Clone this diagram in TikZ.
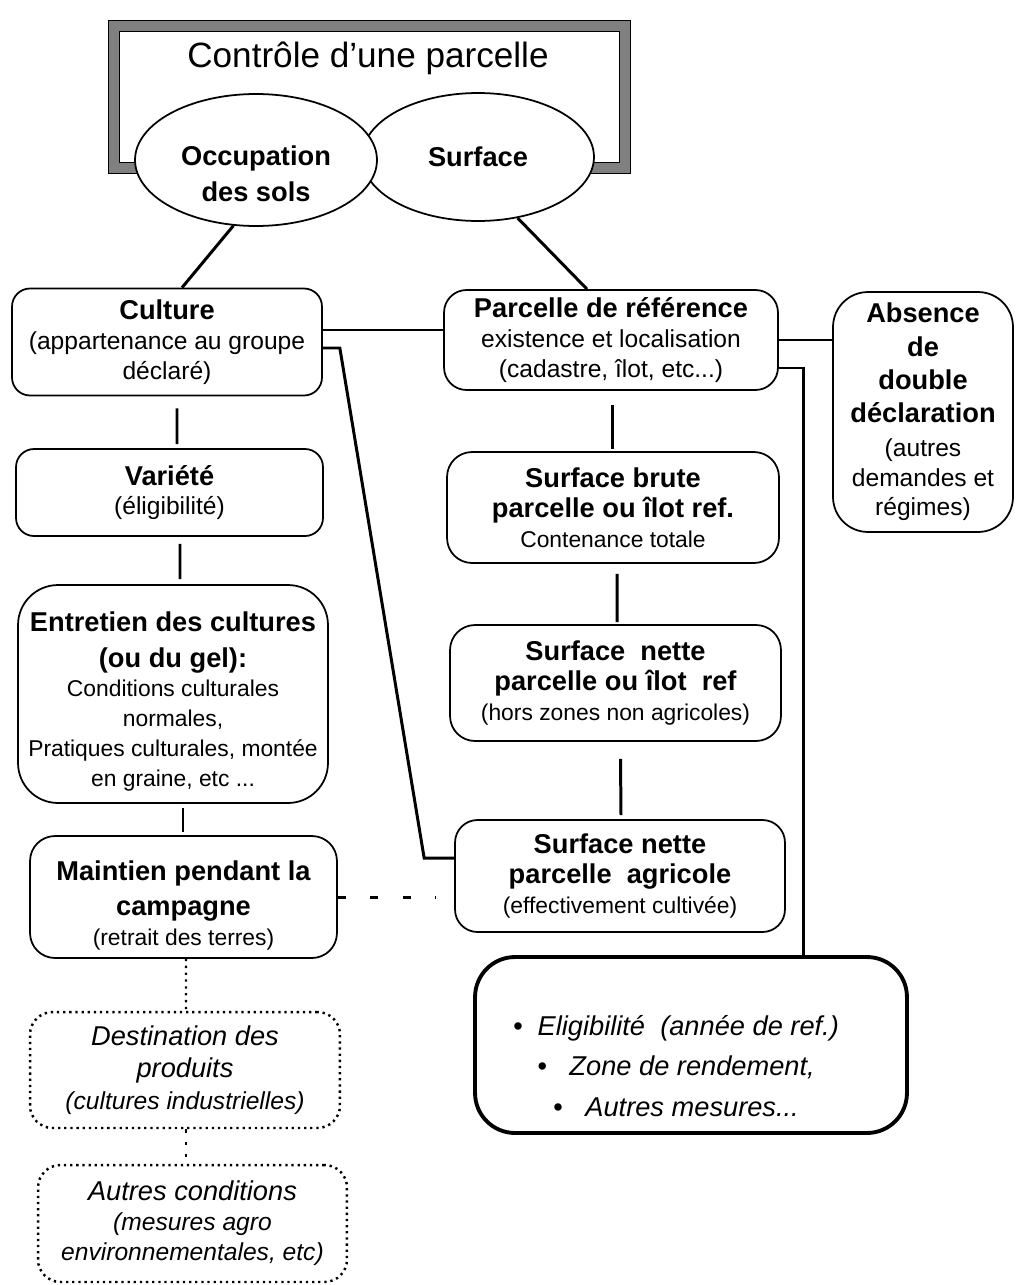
\documentclass[tikz,border=0pt]{standalone}
\usepackage{fontspec}
\setmainfont{Liberation Sans}
\usetikzlibrary{shapes.geometric,calc}

\newcommand{\grand}[1]{{\fontsize{15.5}{18.5}\selectfont #1}}
\newcommand{\gras}[1]{{\fontsize{15.5}{18.5}\selectfont\bfseries #1}}
\newcommand{\petit}[1]{{\fontsize{13}{15.5}\selectfont #1}}

\begin{document}
\begin{tikzpicture}[x=0.02cm, y=-0.02cm,
  box/.style={draw, line width=1pt, rounded corners=0.45cm, align=center, inner sep=1pt, font=\fontsize{14}{17}\selectfont},
  dotbox/.style={box, dash pattern=on 1.3pt off 2.2pt, line width=1.4pt, font=\fontsize{14}{17}\selectfont\itshape},
  bubble/.style={draw, ellipse, line width=1pt, fill=white, inner sep=0pt, align=center, font=\fontsize{15.5}{18.5}\selectfont\bfseries},
  link/.style={line width=1.7pt}]
\useasboundingbox (0,0) rectangle (1015,1285);

% titre et ovales
\draw[line width=0.8pt, double=black!50, double distance=0.2cm] (114,26) rectangle (625,168);
\node[font=\fontsize{20}{24}\selectfont] (titre) at (368,58) {Contrôle d’une parcelle};
\node[bubble, minimum width=4.64cm, minimum height=2.56cm] (surf) at (478,157) {Surface};
\node[bubble, minimum width=4.84cm, minimum height=2.64cm] (occ) at (256,160) {\rule{0pt}{27pt}Occupation\\[2pt]des sols};

% colonne gauche
\node[box, minimum width=6.2cm, minimum height=2.14cm, rounded corners=0.36cm] (culture) at (167,342) {\gras{Culture}\\(appartenance au groupe\\déclaré)};
\node[box, minimum width=6.14cm, minimum height=1.74cm, rounded corners=0.36cm] (variete) at (169.5,492.5) {\gras{Variété}\\(éligibilité)};
\node[box, minimum width=6.2cm, minimum height=4.36cm, rounded corners=0.8cm, inner sep=0pt] (entretien) at (173,694) {\rule{0pt}{20pt}\gras{Entretien des cultures}\\[3pt]\gras{(ou du gel):}\\\petit{Conditions culturales}\\\petit{normales,}\\\petit{Pratiques culturales, montée}\\\petit{en graine, etc ...}};
\node[box, minimum width=6.14cm, minimum height=2.44cm, rounded corners=0.5cm] (maintien) at (183.5,897) {\rule{0pt}{21pt}\gras{Maintien pendant la}\\[3pt]\gras{campagne}\\\petit{(retrait des terres)}};
\node[dotbox, minimum width=6.2cm, minimum height=2.32cm] (destination) at (185,1070) {\grand{Destination des}\\[1.5pt]\grand{produits}\\[1pt](cultures industrielles)};
\node[dotbox, minimum width=6.18cm, minimum height=2.34cm] (autres) at (192.5,1223.5) {\grand{Autres conditions}\\(mesures agro\\environnementales, etc)};

% colonne droite
\node[box, minimum width=6.68cm, minimum height=2cm] (parcelle) at (611,340) {\gras{Parcelle de référence}\\existence et localisation\\(cadastre, îlot, etc...)};
\node[box, minimum width=6.64cm, minimum height=2.22cm, rounded corners=0.5cm] (brute) at (613,507.5) {\gras{Surface brute}\\\gras{parcelle ou îlot ref.}\\\petit{Contenance totale}};
\node[box, minimum width=6.62cm, minimum height=2.32cm, rounded corners=0.5cm] (nette) at (615.5,683) {\gras{Surface\ \ nette}\\\gras{parcelle ou îlot\ \ ref}\\\petit{(hors zones non agricoles)}};
\node[box, minimum width=6.6cm, minimum height=2.24cm] (agri) at (620,876) {\gras{Surface nette}\\\gras{parcelle\ \ agricole}\\\petit{(effectivement cultivée)}};
\node[box, minimum width=3.6cm, minimum height=4.8cm, rounded corners=0.7cm] (absence) at (923,412) {\gras{Absence}\\[2pt]\gras{de}\\[2pt]\gras{double}\\[2pt]\gras{déclaration}\\[2pt](autres\\demandes et\\régimes)};
\node[box, line width=2.2pt, minimum width=8.64cm, minimum height=3.52cm, rounded corners=0.8cm] (elig) at (691,1045) {};
\node[font=\fontsize{15.5}{20}\selectfont\itshape, align=center] (eligtxt) at (676,1066) {•\ \ Eligibilité\ \ (année de ref.)\\[3pt]•\ \ \ Zone de rendement,\\[3pt]•\ \ \ Autres mesures...};

% liaisons
\draw[link] (occ.251) -- ($(culture.north)+(15,0)$);
\draw[link] (surf.-57) -- ($(parcelle.north)+(-24,0)$);
\draw[link] ($(culture.east)+(0,-12)$) -- ($(parcelle.west)+(0,-10)$);
\draw[link] ($(culture.east)+(0,6)$) -- ++(17,0) -- ($(agri.west)+(-30,-18)$) -- ($(agri.west)+(0,-18)$);
\draw[link] (parcelle.east) -- (absence.west |- parcelle.east);
\draw[link] ($(parcelle.east)+(0,28)$) -| ($(elig.north)+(112,0)$);
\draw[link] ($(culture.south)+(10,12)$) -- ($(variete.north)+(7.5,-4)$);
\draw[link] ($(variete.south)+(10.5,7)$) -- ($(entretien.north)+(7,-5)$);
\draw[link] ($(entretien.south)+(10,4)$) -- ($(maintien.north)+(-0.5,-3)$);
\draw[link] ($(parcelle.south)+(1,14)$) -- ($(brute.north)+(-1,-2)$);
\draw[link] ($(brute.south)+(4,10)$) -- ($(nette.north)+(1.5,-2)$);
\draw[link] ($(nette.south)+(5,17)$) -- ($(agri.north)+(1,-4)$);
\draw[link, dash pattern=on 4.5pt off 14pt] (maintien.east) -- ($(agri.west)+(-18,21)$);
\draw[line width=1.4pt, dash pattern=on 1.3pt off 2.6pt] ($(maintien.south)+(2.5,0)$) -- ($(destination.north)+(1,0)$);
\draw[line width=1.6pt, dash pattern=on 2pt off 5pt] ($(destination.south)+(1,0)$) -- ($(autres.north)+(-6.5,0)$);
\end{tikzpicture}
\end{document}
